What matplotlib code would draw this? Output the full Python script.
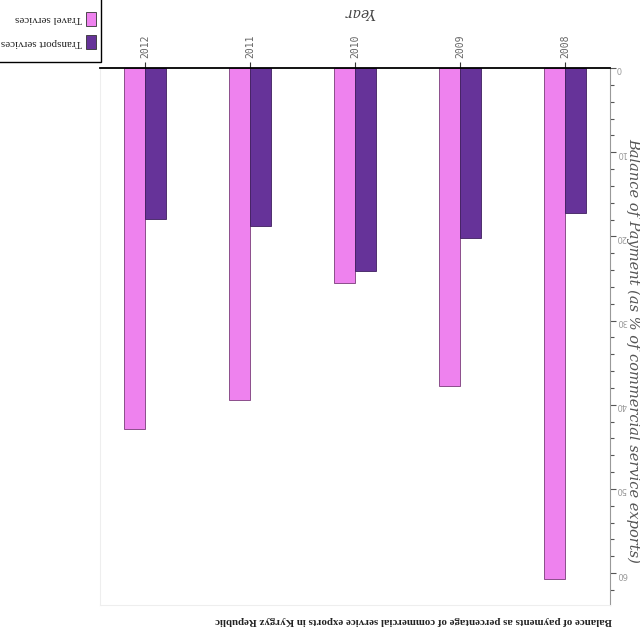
import matplotlib.pyplot as plt
from matplotlib.patches import Rectangle
from matplotlib.ticker import MultipleLocator
import numpy as np

years = ["2012", "2011", "2010", "2009", "2008"]
travel = [42.9, 39.4, 25.5, 37.8, 60.7]
transport = [17.9, 18.8, 24.1, 20.2, 17.2]
series_names = ["Travel services", "Transport services"]
colors = ["#ee82ee", "#663399"]

serif = ["Liberation Serif", "DejaVu Serif"]

fig = plt.figure(figsize=(6.4, 6.4), dpi=100)
ax = fig.add_axes([100/640, 1 - 605/640, 510/640, (605 - 68)/640])

x = np.arange(len(years))
w = 0.2
ax.bar(x - w/2, travel, w, color=colors[0], edgecolor="#7a3c7a", linewidth=0.6)
ax.bar(x + w/2, transport, w, color=colors[1], edgecolor="#3f1f5f", linewidth=0.6)

ax.set_xlim(-0.43, len(years) - 1 + 0.43)
ax.set_ylim(63.8, 0)

# years along the top, vertical labels
ax.xaxis.tick_top()
ax.set_xticks(x)
ax.set_xticklabels(years, rotation=90, fontsize=7, color="#666666",
                   family="DejaVu Sans Mono")
ax.tick_params(axis="x", length=4, width=0.8, color="#333333", pad=3)

# value axis on the right, labels upside down
ax.yaxis.tick_right()
ax.yaxis.set_major_locator(MultipleLocator(10))
ax.yaxis.set_minor_locator(MultipleLocator(2))
ax.tick_params(axis="y", which="major", length=4, width=0.8, color="#555555",
               labelrotation=180, labelsize=6, labelcolor="#999999", pad=0.5)
ax.tick_params(axis="y", which="minor", length=3, width=0.8, color="#555555")

for side in ["left", "bottom"]:
    ax.spines[side].set_color("#eeeeee")
ax.spines["right"].set_color("#999999")
ax.spines["top"].set_color("black")
ax.spines["top"].set_linewidth(1.3)

fig.text(360/640, 1 - 12/640, "Year", rotation=180, ha="center", va="center",
         fontsize=10, style="italic", family="DejaVu Serif", color="#444444")
fig.text(633.5/640, 1 - 350/640, "Balance of Payment (as % of commercial service exports)",
         rotation=270, ha="center", va="center", fontsize=10.5, style="italic",
         family="DejaVu Serif", color="#555555")

fig.text(612/640, 1 - 620/640,
         "Balance of payments as percentage of commercial service exports in Kyrgyz Republic",
         rotation=180, ha="right", va="center", fontsize=7.8, fontweight="bold",
         family=serif, color="#222222")

# legend box, upside down in the top-left corner
fig.patches.append(Rectangle((-0.01, 1 - 62/640), 101/640 + 0.01, 62/640 + 0.01,
                             transform=fig.transFigure, fill=False,
                             edgecolor="black", linewidth=1))
for i, name in enumerate(series_names):
    yc = 1 - (19 + 23*i)/640
    fig.patches.append(Rectangle((86/640, yc - 7/640), 10/640, 14/640,
                                 transform=fig.transFigure, facecolor=colors[i],
                                 edgecolor="#333333", linewidth=0.6))
    fig.text(82/640, yc, name, rotation=180, ha="right", va="center",
             fontsize=7.9, family=serif, color="#222222")

fig.savefig("out.png", dpi=100)
